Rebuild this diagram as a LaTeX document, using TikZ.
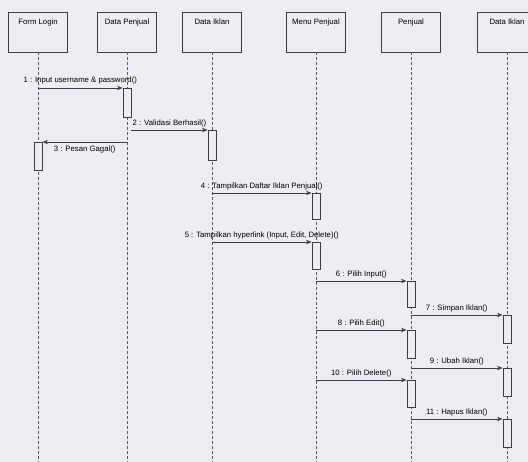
\documentclass[tikz,border=0pt]{standalone}
\usepackage{fontspec}
\setmainfont{Liberation Sans}
\usetikzlibrary{arrows.meta}
\definecolor{bg}{RGB}{237,237,243}
\definecolor{ink}{RGB}{60,60,68}
\begin{document}
\begin{tikzpicture}[x=1bp,y=-1bp,
 head/.style={draw=ink,line width=0.9bp,minimum width=59bp,minimum height=40bp,inner sep=0},
 lbl/.style={font=\fontsize{7.8}{9}\selectfont,text=black,inner sep=0.8bp},
 life/.style={draw=ink!85,line width=0.5bp,densely dashed},
 act/.style={draw=ink,fill=bg,line width=0.9bp,minimum width=8bp,inner sep=0,anchor=north},
 msg/.style={draw=ink,line width=0.9bp,-{Stealth[length=5.5bp,width=4.5bp]}}]
\fill[bg] (0,0) rectangle (528,462);
\useasboundingbox (0,0) rectangle (528,462);
% heads
\node[head,label={[lbl,anchor=north,yshift=-6bp]north:Form Login}] (fl) at (38,32) {};
\node[head,label={[lbl,anchor=north,yshift=-6bp]north:Data Penjual}] (dp) at (127,32) {};
\node[head,label={[lbl,anchor=north,yshift=-6bp]north:Data Iklan}] (di) at (212,32) {};
\node[head,label={[lbl,anchor=north,yshift=-6bp]north:Menu Penjual}] (mp) at (316,32) {};
\node[head,label={[lbl,anchor=north,yshift=-6bp]north:Penjual}] (pj) at (411,32) {};
\node[head,label={[lbl,anchor=north,yshift=-6bp]north:Data Iklan}] (di2) at (507,32) {};
% lifelines
\foreach \n in {fl,dp,di,mp,pj,di2} \draw[life] (\n.south) -- ++(0,420);
% activations
\node[act,minimum height=29bp] (a1) at (dp.south |- 0,88) {};
\node[act,minimum height=30bp] (a2) at (di.south |- 0,130) {};
\node[act,minimum height=28bp] (a3) at (fl.south |- 0,142) {};
\node[act,minimum height=26bp] (a4) at (mp.south |- 0,193) {};
\node[act,minimum height=27bp] (a5) at (mp.south |- 0,242) {};
\node[act,minimum height=26bp] (a6) at (pj.south |- 0,281) {};
\node[act,minimum height=28bp] (a7) at (di2.south |- 0,315) {};
\node[act,minimum height=28bp] (a8) at (pj.south |- 0,330) {};
\node[act,minimum height=28bp] (a9) at (di2.south |- 0,368) {};
\node[act,minimum height=27bp] (a10) at (pj.south |- 0,380) {};
\node[act,minimum height=28bp] (a11) at (di2.south |- 0,419) {};
% messages
\draw[msg] (fl.south |- a1.north) -- (a1.north west) node[midway,above=3bp,lbl] {1 : Input username \& password()};
\draw[msg] (a1.east |- a2.north) -- (a2.north west) node[midway,above=1.5bp,lbl] {2 : Validasi Berhasil()};
\draw[msg] (dp.south |- a3.north) -- (a3.north east) node[midway,below=3bp,lbl] {3 : Pesan Gagal()};
\draw[msg] (di.south |- a4.north) -- (a4.north west) node[midway,above=1.5bp,lbl] {4 : Tampilkan Daftar Iklan Penjual()};
\draw[msg] (di.south |- a5.north) -- (a5.north west) node[midway,above=1.5bp,lbl] {5 : Tampilkan hyperlink (Input, Edit, Delete)()};
\draw[msg] (mp.south |- a6.north) -- (a6.north west) node[midway,above=1.5bp,lbl] {6 : Pilih Input()};
\draw[msg] (pj.south |- a7.north) -- (a7.north west) node[midway,above=1.5bp,lbl] {7 : Simpan Iklan()};
\draw[msg] (mp.south |- a8.north) -- (a8.north west) node[midway,above=1.5bp,lbl] {8 : Pilih Edit()};
\draw[msg] (pj.south |- a9.north) -- (a9.north west) node[midway,above=1.5bp,lbl] {9 : Ubah Iklan()};
\draw[msg] (mp.south |- a10.north) -- (a10.north west) node[midway,above=1.5bp,lbl] {10 : Pilih Delete()};
\draw[msg] (pj.south |- a11.north) -- (a11.north west) node[midway,above=1.5bp,lbl] {11 : Hapus Iklan()};
\end{tikzpicture}
\end{document}
